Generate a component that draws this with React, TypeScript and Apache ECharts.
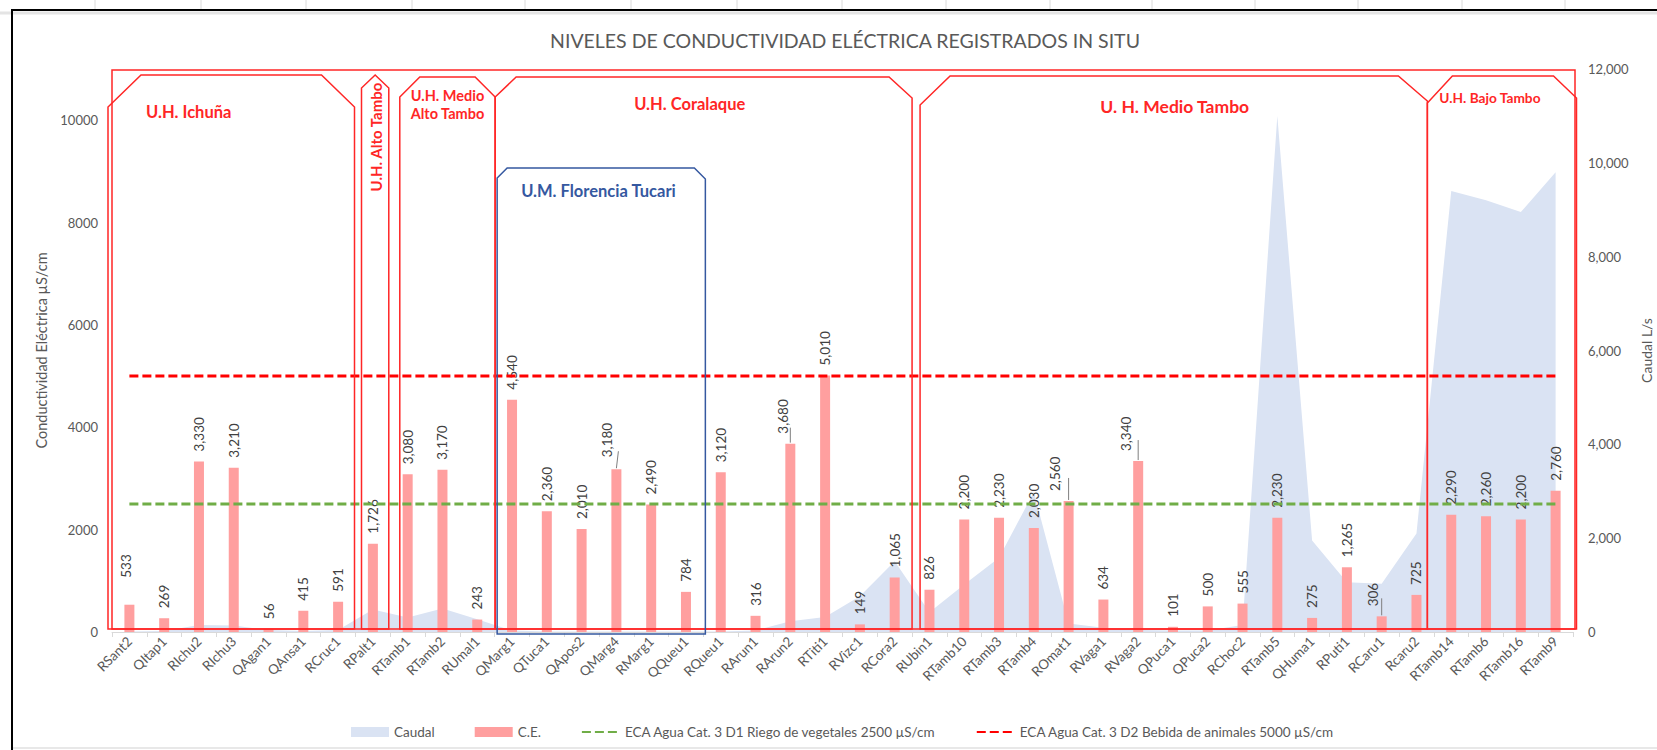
import React, { useEffect, useRef } from "react";
import * as echarts from "echarts";

const FONT = "Lato, 'Open Sans', sans-serif";

const TITLE = "NIVELES DE CONDUCTIVIDAD ELÉCTRICA REGISTRADOS IN SITU";
const LEFT_AXIS_NAME = "Conductividad Eléctrica µS/cm";
const RIGHT_AXIS_NAME = "Caudal L/s";

const categories = [
  "RSant2", "QItap1", "RIchu2", "RIchu3", "QAgan1", "QAnsa1", "RCruc1", "RPalt1",
  "RTamb1", "RTamb2", "RUmal1", "QMarg1", "QTuca1", "QApos2", "QMarg4", "RMarg1",
  "QQueu1", "RQueu1", "RArun1", "RArun2", "RTiti1", "RVizc1", "RCora2", "RUbin1",
  "RTamb10", "RTamb3", "RTamb4", "ROmat1", "RVaga1", "RVaga2", "QPuca1", "QPuca2",
  "RChoc2", "RTamb5", "QHuma1", "RPuti1", "RCaru1", "Rcaru2", "RTamb14", "RTamb6",
  "RTamb16", "RTamb9",
];

// C.E. (µS/cm), left axis
const conductividad = [
  533, 269, 3330, 3210, 56, 415, 591, 1726,
  3080, 3170, 243, 4540, 2360, 2010, 3180, 2490,
  784, 3120, 316, 3680, 5010, 149, 1065, 826,
  2200, 2230, 2030, 2560, 634, 3340, 101, 500,
  555, 2230, 275, 1265, 306, 725, 2290, 2260,
  2200, 2760,
];

// Caudal (L/s), right axis
const caudal = [
  10, 20, 150, 140, 40, 20, 40, 480,
  310, 500, 270, 30, 10, 10, 10, 10,
  10, 10, 30, 230, 320, 760, 1510, 420,
  1010, 1580, 2980, 180, 90, 40, 30, 30,
  150, 11000, 1950, 1060, 1030, 2100, 9400, 9200,
  8950, 9800,
];

const RIEGO_NAME = "ECA Agua Cat. 3 D1 Riego de vegetales 2500 µS/cm";
const BEBIDA_NAME = "ECA Agua Cat. 3 D2 Bebida de animales 5000 µS/cm";
const RIEGO_LIMIT = 2500;
const BEBIDA_LIMIT = 5000;

const leftTicks = { min: 0, max: 11000, interval: 2000 };
const rightTicks = { min: 0, max: 12000, interval: 2000 };

// manual label displacements (screen px) as in the original chart
const labelShift: Record<string, { dx: number; dy: number; lead: boolean }> = {
  RSant2: { dx: 17, dy: -3, lead: false },
  QMarg4: { dx: 2, dy: -9, lead: true },
  RArun2: { dx: 0, dy: -7, lead: true },
  ROmat1: { dx: 0, dy: -14, lead: true },
  RVaga2: { dx: 0, dy: -12, lead: true },
  RCaru1: { dx: 0, dy: -9, lead: true },
};
const LABEL_DISTANCE = 10;

const fmt = (v: number) => Number(v).toLocaleString("en-US");

export default function App() {
  const ref = useRef<HTMLDivElement>(null);

  useEffect(() => {
    if (!ref.current) return;
    const chart = echarts.init(ref.current, undefined, { renderer: "svg" });

    const option: any = {
      animation: false,
      backgroundColor: "#ffffff",
      textStyle: { fontFamily: FONT },
      title: {
        text: TITLE,
        left: 840,
        top: 25,
        textAlign: "center",
        textStyle: { fontFamily: FONT, fontSize: 19.5, fontWeight: "normal", color: "#595959" },
      },
      legend: {
        left: 346,
        top: 720,
        itemWidth: 38,
        itemHeight: 10,
        itemGap: 40,
        textStyle: { fontFamily: FONT, fontSize: 13.5, color: "#595959" },
        data: [
          { name: "Caudal", icon: "rect", itemStyle: { color: "#DAE3F3" } },
          { name: "C.E.", icon: "rect" },
          { name: RIEGO_NAME, itemStyle: { opacity: 0 } },
          { name: BEBIDA_NAME, itemStyle: { opacity: 0 } },
        ],
      },
      grid: { left: 112, right: 84, top: 69, bottom: 118, containLabel: false, outerBoundsMode: "none" },
      xAxis: {
        type: "category",
        data: categories,
        boundaryGap: true,
        axisLine: { lineStyle: { color: "#D9D9D9", width: 1 } },
        axisTick: { show: true, length: 5, lineStyle: { color: "#D9D9D9" } },
        axisLabel: { rotate: 45, interval: 0, fontSize: 13.5, color: "#595959", margin: 7, fontFamily: FONT },
        splitLine: { show: false },
      },
      yAxis: [
        {
          type: "value",
          min: leftTicks.min,
          max: leftTicks.max,
          interval: leftTicks.interval,
          name: LEFT_AXIS_NAME,
          nameLocation: "middle",
          nameGap: 60,
          nameTextStyle: { fontFamily: FONT, fontSize: 14.5, color: "#595959" },
          axisLine: { show: false },
          axisTick: { show: false },
          splitLine: { show: false },
          axisLabel: {
            fontSize: 13,
            color: "#595959",
            margin: 14,
            fontFamily: FONT,
            formatter: (v: number) => (v > 10000 ? "" : String(v)),
          },
        },
        {
          type: "value",
          min: rightTicks.min,
          max: rightTicks.max,
          interval: rightTicks.interval,
          name: RIGHT_AXIS_NAME,
          nameLocation: "middle",
          nameGap: 64,
          nameTextStyle: { fontFamily: FONT, fontSize: 14, color: "#595959" },
          axisLine: { show: false },
          axisTick: { show: false },
          splitLine: { show: false },
          axisLabel: { fontSize: 13, color: "#595959", margin: 15, fontFamily: FONT, formatter: (v: number) => fmt(v) },
        },
      ],
      series: [
        {
          name: "Caudal",
          type: "line",
          yAxisIndex: 1,
          data: caudal,
          symbol: "none",
          showSymbol: false,
          color: "#DAE3F3",
          lineStyle: { width: 0, color: "#DAE3F3" },
          areaStyle: { color: "#DAE3F3", opacity: 1 },
          z: 1,
        },
        {
          name: "C.E.",
          type: "bar",
          yAxisIndex: 0,
          data: conductividad,
          barWidth: 10,
          color: "#FF9F9F",
          itemStyle: { color: "#FF9F9F" },
          z: 2,
          label: {
            show: true,
            position: "top",
            rotate: 90,
            align: "left",
            verticalAlign: "middle",
            distance: LABEL_DISTANCE,
            fontSize: 13.5,
            color: "#404040",
            fontFamily: FONT,
            formatter: (p: any) => fmt(p.value),
          },
          labelLayout: (p: any) => {
            const s = labelShift[categories[p.dataIndex]];
            return s ? { dx: s.dx, dy: s.dy } : {};
          },
        },
        {
          name: RIEGO_NAME,
          type: "line",
          yAxisIndex: 0,
          data: categories.map(() => RIEGO_LIMIT),
          symbol: "none",
          showSymbol: false,
          color: "#70AD47",
          lineStyle: { color: "#70AD47", width: 3, type: [9, 4] },
          z: 3,
        },
        {
          name: BEBIDA_NAME,
          type: "line",
          yAxisIndex: 0,
          data: categories.map(() => BEBIDA_LIMIT),
          symbol: "none",
          showSymbol: false,
          color: "#FF0000",
          lineStyle: { color: "#FF0000", width: 3, type: [9, 4] },
          z: 3,
        },
      ],
    };

    chart.setOption(option);

    // --- annotation shapes, placed from the axes ---
    const cx = (i: number) => chart.convertToPixel({ xAxisIndex: 0 }, categories[i]) as number;
    const py = (v: number) => chart.convertToPixel({ yAxisIndex: 0 }, v) as number;
    const step = cx(1) - cx(0);
    const edge = (i: number) => cx(0) + (i - 0.5) * step; // left boundary of category i (i may be n)
    const yZero = py(0);
    const yTop = py(leftTicks.max);
    const B = yZero - 3;
    const RED = "#FF2626";
    const BLUE = "#3558A0";
    const N = categories.length;

    const snip = (L: number, R: number, T: number, sl: number[], sr: number[], bottom: number) => [
      [L, bottom], [L, T + sl[1]], [L + sl[0], T], [R - sr[0], T], [R, T + sr[1]], [R, bottom],
    ];
    const outline = (pts: number[][], color: string, w = 1.5) => ({
      type: "polygon",
      z: 100,
      silent: true,
      shape: { points: pts },
      style: { stroke: color, lineWidth: w, fill: null },
    });
    const label = (text: string, x: number, y: number, size: number, color: string, align = "left", extra: any = {}) => ({
      type: "text",
      z: 101,
      silent: true,
      x,
      y,
      rotation: extra.rotation || 0,
      style: {
        text,
        fill: color,
        font: `bold ${size}px ${FONT}`,
        align,
        verticalAlign: "middle",
        lineHeight: extra.lineHeight || size + 4,
      },
    });

    // leader lines for the displaced data labels
    const leaders = categories
      .map((c, i) => ({ c, i, s: labelShift[c] }))
      .filter((o) => o.s && o.s.lead)
      .map((o) => {
        const x = cx(o.i);
        const top = py(conductividad[o.i]);
        return {
          type: "line",
          z: 60,
          silent: true,
          shape: { x1: x, y1: top - 1, x2: x + o.s.dx, y2: top - LABEL_DISTANCE + o.s.dy + 1 },
          style: { stroke: "#7f7f7f", lineWidth: 1 },
        };
      });

    const T1 = yTop + 6;
    const T2 = yTop + 8;
    const T3 = yTop + 7;

    const ichL = edge(0) - 4, ichR = edge(7) - 1;
    const altL = edge(7) + 6, altR = edge(8) - 1.5;
    const maL = edge(8) + 9.5, maR = edge(11) + 0.5;
    const corL = edge(11) + 0.5, corR = edge(23);
    const floL = edge(11) + 2.5, floR = edge(17) + 2, floT = yTop + 99;
    const mtL = edge(23) + 8, mtR = edge(38) - 6.5;
    const btL = edge(38) - 6.5, btR = edge(N) + 2;

    const graphics: any[] = [
      // chart frame & sheet remnants
      { type: "line", z: 50, silent: true, shape: { x1: 0, y1: 13, x2: 1657, y2: 13 }, style: { stroke: "#E4E4E4", lineWidth: 3 } },
      ...[95, 201, 306, 412, 525, 631, 737, 842, 946, 1050, 1152, 1255, 1358, 1462, 1565].map((x) => ({
        type: "line", z: 50, silent: true, shape: { x1: x, y1: 0, x2: x, y2: 9 }, style: { stroke: "#DADADA", lineWidth: 1 },
      })),
      { type: "line", z: 50, silent: true, shape: { x1: 11, y1: 748, x2: 1657, y2: 748 }, style: { stroke: "#E8E8E8", lineWidth: 2 } },
      { type: "line", z: 51, silent: true, shape: { x1: 11, y1: 10, x2: 1657, y2: 10 }, style: { stroke: "#000000", lineWidth: 2 } },
      { type: "line", z: 51, silent: true, shape: { x1: 12, y1: 10, x2: 12, y2: 750 }, style: { stroke: "#000000", lineWidth: 2 } },

      ...leaders,

      // outer red frame
      {
        type: "rect", z: 100, silent: true,
        shape: { x: edge(0), y: yTop + 1, width: btR - edge(0), height: B - yTop - 1 },
        style: { stroke: RED, lineWidth: 1.5, fill: null },
      },
      outline(snip(ichL, ichR, T1, [33, 32], [33, 32], B), RED),
      outline([[altL, B], [altL, T1 + 13], [(altL + altR) / 2, T1], [altR, T1 + 13], [altR, B]], RED),
      outline(snip(maL, maR, T2, [20, 20], [20, 20], B), RED),
      outline(snip(corL, corR, T2, [21, 20], [23, 21], B), RED),
      outline(snip(floL, floR, floT, [10, 10], [11, 11], B + 5), BLUE),
      outline(snip(mtL, mtR, T3, [30, 29], [29, 25], B), RED),
      outline(snip(btL, btR + 1.5, T3, [25, 27], [23, 22], B), RED),

      label("U.H. Ichuña", ichL + 38, yTop + 43, 16.5, RED),
      label("U.H. Alto Tambo", (altL + altR) / 2 + 1, yTop + 68, 15, RED, "center", { rotation: Math.PI / 2 }),
      label("U.H. Medio\nAlto Tambo", (maL + maR) / 2, yTop + 35, 14.5, RED, "center", { lineHeight: 18 }),
      label("U.H. Coralaque", corL + 139, yTop + 35, 16.5, RED),
      label("U.M. Florencia Tucari", floL + 24, floT + 23, 16.5, BLUE),
      label("U. H. Medio Tambo", (mtL + mtR) / 2 + 1, yTop + 37, 17.5, RED, "center"),
      label("U.H. Bajo Tambo", btL + 12, yTop + 28, 13.7, RED),
    ];

    chart.setOption({ graphic: { elements: graphics } });

    return () => chart.dispose();
  }, []);

  return (
    <div
      ref={ref}
      style={{ position: "absolute", left: 0, top: 0, width: 1657, height: 750, background: "#fff" }}
    />
  );
}
